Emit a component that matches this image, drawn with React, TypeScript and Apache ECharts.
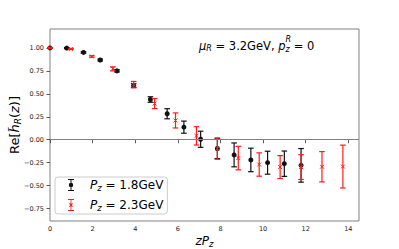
import React, { useEffect, useRef } from 'react';
import * as echarts from 'echarts';

// Pz = 1.8 GeV
const zBlack = [0, 0.785, 1.571, 2.356, 3.142, 3.927, 4.712, 5.498, 6.283, 7.069, 7.854, 8.639, 9.425, 10.21, 10.996, 11.781];
const hBlack = [1.0, 0.998, 0.951, 0.868, 0.75, 0.59, 0.438, 0.283, 0.137, 0.005, -0.095, -0.165, -0.22, -0.25, -0.261, -0.279];
const eBlack = [0.004, 0.006, 0.008, 0.01, 0.012, 0.02, 0.03, 0.055, 0.066, 0.088, 0.11, 0.13, 0.128, 0.125, 0.138, 0.183];

// Pz = 2.3 GeV
const zRed = [0, 0.982, 1.963, 2.945, 3.927, 4.909, 5.89, 6.872, 7.854, 8.836, 9.817, 10.799, 11.781, 12.763, 13.744];
const hRed = [1.0, 0.989, 0.907, 0.772, 0.6, 0.394, 0.21, 0.042, -0.097, -0.2, -0.27, -0.298, -0.298, -0.294, -0.292];
const eRed = [0.004, 0.006, 0.008, 0.022, 0.035, 0.055, 0.082, 0.1, 0.116, 0.128, 0.127, 0.125, 0.135, 0.165, 0.233];

const xTicks = [0, 2, 4, 6, 8, 10, 12, 14];
const yTicks = [-0.75, -0.5, -0.25, 0, 0.25, 0.5, 0.75, 1.0];

const nameBlack = 'Pz18';
const nameRed = 'Pz23';

const FONT = 'DejaVu Sans';
const BLACK = '#111111';
const RED = '#ff1a1a';

const iconBlack =
  'path://M0,0L6,0L6,1L0,1Z M0,11L6,11L6,12L0,12Z M2.5,0L3.5,0L3.5,12L2.5,12Z M5.2,6A2.2,2.2 0 1,1 0.8,6A2.2,2.2 0 1,1 5.2,6Z';
const iconRed =
  'path://M0,0L6,0L6,1L0,1Z M0,11L6,11L6,12L0,12Z M2.6,0L3.4,0L3.4,12L2.6,12Z M4.202,4.091L4.909,4.798L3.707,6L4.909,7.202L4.202,7.909L3,6.707L1.798,7.909L1.091,7.202L2.293,6L1.091,4.798L1.798,4.091L3,5.293Z';

function makeRich(size: number, subSize: number, lh: number, subLh: number) {
  return {
    n: { fontFamily: FONT, fontSize: size, lineHeight: lh, color: '#000', verticalAlign: 'middle' },
    i: { fontFamily: FONT, fontSize: size, lineHeight: lh, color: '#000', fontStyle: 'italic', verticalAlign: 'middle' },
    p: { fontFamily: FONT, fontSize: size, lineHeight: lh, color: '#000', fontStyle: 'italic', verticalAlign: 'middle', padding: [0, 0, 0, 10] },
    s: { fontFamily: FONT, fontSize: subSize, lineHeight: subLh, color: '#000', fontStyle: 'italic', verticalAlign: 'bottom' },
  };
}

function errRender(color: string, marker: 'circle' | 'x') {
  return (params: any, api: any) => {
    const x = api.value(0);
    const y = api.value(1);
    const e = api.value(2);
    const c = api.coord([x, y]);
    const t = api.coord([x, y + e]);
    const b = api.coord([x, y - e]);
    const cap = 2.8;
    const st = { stroke: color, lineWidth: 1.2 };
    const children: any[] = [
      { type: 'line', shape: { x1: c[0], y1: t[1], x2: c[0], y2: b[1] }, style: st },
      { type: 'line', shape: { x1: c[0] - cap, y1: t[1], x2: c[0] + cap, y2: t[1] }, style: st },
      { type: 'line', shape: { x1: c[0] - cap, y1: b[1], x2: c[0] + cap, y2: b[1] }, style: st },
    ];
    if (marker === 'circle') {
      children.push({ type: 'circle', shape: { cx: c[0], cy: c[1], r: 2.5 }, style: { fill: color } });
    } else {
      const m = 1.9;
      const xs = { stroke: color, lineWidth: 1.0 };
      children.push({ type: 'line', shape: { x1: c[0] - m, y1: c[1] - m, x2: c[0] + m, y2: c[1] + m }, style: xs });
      children.push({ type: 'line', shape: { x1: c[0] - m, y1: c[1] + m, x2: c[0] + m, y2: c[1] - m }, style: xs });
    }
    return { type: 'group', children };
  };
}

const annoMain = { fontFamily: FONT, fontSize: 11.5, fill: '#000' };

export default function App() {
  const ref = useRef<HTMLDivElement>(null);
  useEffect(() => {
    if (!ref.current) return;
    const chart = echarts.init(ref.current, undefined, { renderer: 'svg' });
    const legendRich = makeRich(12, 8.5, 14, 6);
    const option: any = {
      animation: false,
      backgroundColor: '#ffffff',
      grid: {
        left: 50,
        right: 40,
        top: 29,
        bottom: 28,
        show: true,
        borderColor: '#808080',
        borderWidth: 1,
        backgroundColor: 'transparent',
        outerBoundsMode: 'none',
        containLabel: false,
      },
      xAxis: {
        type: 'value',
        min: 0,
        max: 14.5,
        name: '{i|zP}{s|z}',
        nameLocation: 'middle',
        nameGap: 13,
        nameMoveOverlap: false,
        nameTextStyle: { rich: makeRich(12, 8.5, 14, 6) },
        axisLine: { show: false },
        splitLine: { show: false },
        axisTick: { show: true, length: 3.5, lineStyle: { color: '#333', width: 0.8 }, customValues: xTicks },
        axisLabel: {
          customValues: xTicks,
          fontFamily: FONT,
          fontSize: 6.5,
          color: '#222',
          margin: 4.5,
        },
      },
      yAxis: {
        type: 'value',
        min: -0.885,
        max: 1.206,
        name: '{n|Re[}{i|h̃}{s|R}{n|(}{i|z}{n|)]}',
        nameLocation: 'middle',
        nameRotate: 90,
        nameGap: 28,
        nameMoveOverlap: false,
        nameTextStyle: { rich: makeRich(13, 9, 15, 6) },
        axisLine: { show: false },
        splitLine: { show: false },
        axisTick: { show: true, length: 3.5, lineStyle: { color: '#333', width: 0.8 }, customValues: yTicks },
        axisLabel: {
          customValues: yTicks,
          fontFamily: FONT,
          fontSize: 6.5,
          color: '#222',
          margin: 6,
          formatter: (v: number) => v.toFixed(2).replace('-', '\u2212'),
        },
      },
      legend: {
        orient: 'vertical',
        left: 55,
        top: 177,
        selectedMode: false,
        itemWidth: 8,
        itemHeight: 12,
        itemGap: 7,
        padding: [2, 4, 2, 13],
        borderColor: '#cccccc',
        borderWidth: 1,
        borderRadius: 3,
        backgroundColor: 'rgba(255,255,255,0.8)',
        data: [
          { name: nameBlack, icon: iconBlack, itemStyle: { color: BLACK } },
          { name: nameRed, icon: iconRed, itemStyle: { color: RED } },
        ],
        formatter: (name: string) =>
          name === nameBlack ? '{p|P}{s|z}{n| = 1.8GeV}' : '{p|P}{s|z}{n| = 2.3GeV}',
        textStyle: { rich: legendRich },
      },
      graphic: [
        {
          type: 'text',
          x: 199,
          y: 39,
          style: {
            text: '{i|μ}{s|R}{n| = 3.2GeV, }{i|p}',
            rich: makeRich(11.5, 8, 13, 4),
            textVerticalAlign: 'top',
          },
        },
        {
          type: 'text',
          x: 285.5,
          y: 45,
          style: { text: 'z', fontFamily: FONT, fontSize: 8, fontStyle: 'italic', fill: '#000', textVerticalAlign: 'top' },
        },
        {
          type: 'text',
          x: 285.5,
          y: 35,
          style: { text: 'R', fontFamily: FONT, fontSize: 8, fontStyle: 'italic', fill: '#000', textVerticalAlign: 'top' },
        },
        {
          type: 'text',
          x: 290,
          y: 39,
          style: { text: ' = 0', ...annoMain, textVerticalAlign: 'top', lineHeight: 13 },
        },
      ],
      series: [
        {
          name: nameBlack,
          type: 'custom',
          itemStyle: { color: BLACK },
          encode: { x: 0, y: 1 },
          renderItem: errRender(BLACK, 'circle'),
          data: zBlack.map((z, i) => [z, hBlack[i], eBlack[i]]),
          markLine: {
            silent: true,
            symbol: 'none',
            label: { show: false },
            lineStyle: { color: '#808080', type: 'solid', width: 1 },
            data: [{ yAxis: 0 }],
          },
          z: 2,
        },
        {
          name: nameRed,
          type: 'custom',
          itemStyle: { color: RED },
          encode: { x: 0, y: 1 },
          renderItem: errRender(RED, 'x'),
          data: zRed.map((z, i) => [z, hRed[i], eRed[i]]),
          z: 3,
        },
      ],
    };
    chart.setOption(option);
    return () => chart.dispose();
  }, []);
  return <div ref={ref} style={{ width: 399, height: 249, position: 'absolute', left: 0, top: 0 }} />;
}
